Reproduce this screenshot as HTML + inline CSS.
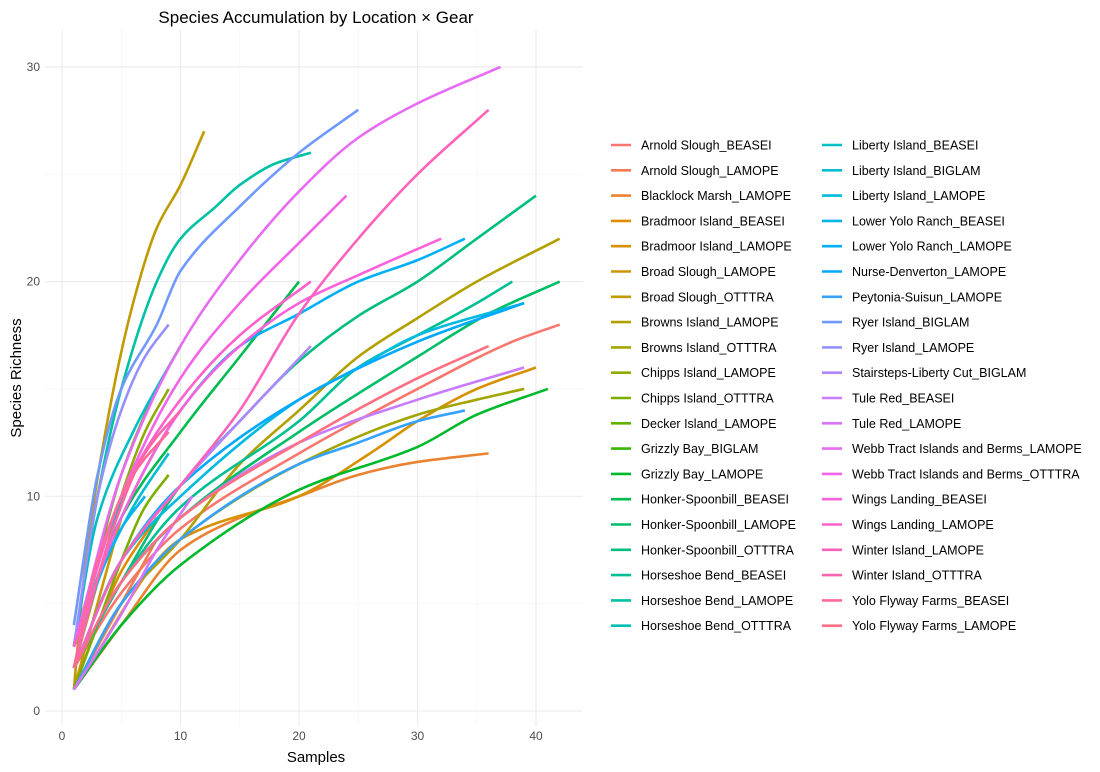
<!DOCTYPE html>
<html><head><meta charset="utf-8"><style>
body{margin:0;background:#fff;font-family:"Liberation Sans",sans-serif}
</style></head><body>
<svg id="chart" width="1100" height="772" style="display:block"></svg>
<script>
const names=["Arnold Slough_BEASEI","Arnold Slough_LAMOPE","Blacklock Marsh_LAMOPE","Bradmoor Island_BEASEI","Bradmoor Island_LAMOPE","Broad Slough_LAMOPE","Broad Slough_OTTTRA","Browns Island_LAMOPE","Browns Island_OTTTRA","Chipps Island_LAMOPE","Chipps Island_OTTTRA","Decker Island_LAMOPE","Grizzly Bay_BIGLAM","Grizzly Bay_LAMOPE","Honker-Spoonbill_BEASEI","Honker-Spoonbill_LAMOPE","Honker-Spoonbill_OTTTRA","Horseshoe Bend_BEASEI","Horseshoe Bend_LAMOPE","Horseshoe Bend_OTTTRA","Liberty Island_BEASEI","Liberty Island_BIGLAM","Liberty Island_LAMOPE","Lower Yolo Ranch_BEASEI","Lower Yolo Ranch_LAMOPE","Nurse-Denverton_LAMOPE","Peytonia-Suisun_LAMOPE","Ryer Island_BIGLAM","Ryer Island_LAMOPE","Stairsteps-Liberty Cut_BIGLAM","Tule Red_BEASEI","Tule Red_LAMOPE","Webb Tract Islands and Berms_LAMOPE","Webb Tract Islands and Berms_OTTTRA","Wings Landing_BEASEI","Wings Landing_LAMOPE","Winter Island_LAMOPE","Winter Island_OTTTRA","Yolo Flyway Farms_BEASEI","Yolo Flyway Farms_LAMOPE"];
const sampleX=[
[1,5,10,20,30,38,42],[1,3,5,8],[1,5,10,15,20,25,30,36],[1,3,5,8],[1,10,20,26,30,35,40],[1,3,5],[1,2,4,6,8,10,12],[1,5,10,15,20,25,30,35,42],[1,5,10,20,30,35,39],[1,3,5,7,9],
[1,3,5,7,9],[1,3,5,8,10],[1,2,3],[1,5,10,20,30,35,41],[1,5,10,15,20],[1,5,10,20,30,36,42],[1,5,10,15,20,25,30,35,40],[1,5,10,20,25,30,35,38],[1,3,5,8,10,13,15,18,21],[1,3,6],
[1,3,6,10],[1,3,6,9],[1,5,10,20,25,30,39],[1,3,5,7],[1,5,10,15,20,25,30,34],[1,5,10,20,30,39],[1,5,10,20,25,30,34],[1,3,5,8,10,15,20,25],[1,3,5,7,9],[1,5,10,15,21],
[1,5,10,20,30,39],[1,5,8,11],[1,5,10,15,20,25,30,37],[1,5,10,15,20,24],[1,5,10,15,20,25,32],[1,5,10,15,21],[1,5,10,15,20,25,30,36],[1,4,7,10],[1,3,6,9],[1,5,10,20,30,36]];
const richness=[
[2,5.5,8.5,12,15,17.2,18],[1,3,5,8],[1,4,7.5,9,10,11,11.6,12],[1,4,6.5,9],[1,8,10,12,13.5,15,16],[1,5,9],[1,7,14,19,22.5,24.5,27],[1,5,8,11.5,14,16.5,18.3,20,22],[1,5,8,11.5,13.8,14.5,15],[2,6,10,13,15],
[1,4,7,9.5,11],[2,7,11,15,17],[2,3,4],[1,4,6.8,10.3,12.3,13.8,15],[3,9,13,16.5,20],[2,6,9,13,16.5,18.5,20],[2,6,10.5,13.5,16.3,18.4,20,22,24],[2,6,9.5,13.5,16,17.5,19,20],[3,10,15,20,22,23.5,24.5,25.5,26],[3,7,11],
[3,9,13,17],[2,6,9.5,12],[2,7,10,14.5,16,17.5,19],[2,6,8.5,10],[3,9,14,17,18.5,20,21,22],[2,7,10.5,14.5,17.2,19],[1,5,8,11.5,12.5,13.5,14],[4,11,15,18,20.5,23.5,26,28],[3,10,14,16.5,18],[2,7,10.5,13.5,17],
[2,6,9,12.5,14.5,16],[1,4.5,7.5,10],[3,11,17,21,24.2,26.7,28.3,30],[3,10,15.5,19,21.8,24],[3,9,14,17,19,20.3,22],[3,10,14.5,17.5,20],[2,7,10.5,14,18.5,22,25,28],[2,8,12,14],[2,7,11,13],[2,6,9,12.5,15.5,17]];
const xTicks=[0,10,20,30,40], yTicks=[0,10,20,30];
const X=v=>62+v*11.85, Y=v=>711-v*21.47;
const NS="http://www.w3.org/2000/svg";
const svg=document.getElementById('chart');
function mk(t,a,p){const e=document.createElementNS(NS,t);for(const k in a)e.setAttribute(k,a[k]);(p||svg).appendChild(e);return e;}
function hcl(h){const L=65,C=100,hr=h*Math.PI/180;const u=C*Math.cos(hr),v=C*Math.sin(hr);
const un=0.19783,vn=0.46832;const Yv=Math.pow((L+16)/116,3);const up=u/(13*L)+un,vp=v/(13*L)+vn;
const Xv=Yv*9*up/(4*vp),Zv=Yv*(12-3*up-20*vp)/(4*vp);
let r=3.2406*Xv-1.5372*Yv-0.4986*Zv,g=-0.9689*Xv+1.8758*Yv+0.0415*Zv,b=0.0557*Xv-0.2040*Yv+1.0570*Zv;
const f=c=>{c=c<=0.0031308?12.92*c:1.055*Math.pow(c,1/2.4)-0.055;return Math.round(255*Math.max(0,Math.min(1,c)));};
return `rgb(${f(r)},${f(g)},${f(b)})`;}
const colors=names.map((n,i)=>hcl(15+i*9));
const grid=mk('g',{});


[5,15,25,35].forEach(v=>mk('line',{x1:X(v),x2:X(v),y1:30,y2:726,stroke:'#f2f2f2','stroke-width':0.6},grid));
[5,15,25].forEach(v=>mk('line',{x1:45,x2:583,y1:Y(v),y2:Y(v),stroke:'#f2f2f2','stroke-width':0.6},grid));
xTicks.forEach(v=>mk('line',{x1:X(v),x2:X(v),y1:30,y2:726,stroke:'#ebebeb','stroke-width':1.1},grid));
yTicks.forEach(v=>mk('line',{x1:45,x2:583,y1:Y(v),y2:Y(v),stroke:'#ebebeb','stroke-width':1.1},grid));
xTicks.forEach(v=>{const t=mk('text',{x:X(v),y:740,'text-anchor':'middle','font-size':12,fill:'#4d4d4d'});t.textContent=v;
});
yTicks.forEach(v=>{const t=mk('text',{x:40,y:Y(v)+4,'text-anchor':'end','font-size':12,fill:'#4d4d4d'});t.textContent=v;
});
function path(xs,ys){const n=xs.length;const p=xs.map((x,i)=>[X(x),Y(ys[i])]);
if(n<2)return '';const d=[],m=[];
for(let i=0;i<n-1;i++)d.push((p[i+1][1]-p[i][1])/(p[i+1][0]-p[i][0]));
m[0]=d[0];m[n-1]=d[n-2];
for(let i=1;i<n-1;i++){m[i]=(d[i-1]*d[i]<=0)?0:2/(1/d[i-1]+1/d[i]);}
let s=`M${p[0][0]},${p[0][1]}`;
for(let i=0;i<n-1;i++){const h=(p[i+1][0]-p[i][0])/3;
s+=` C${p[i][0]+h},${p[i][1]+m[i]*h} ${p[i+1][0]-h},${p[i+1][1]-m[i+1]*h} ${p[i+1][0]},${p[i+1][1]}`;}
return s;}
names.forEach((n,i)=>{const e=mk('path',{d:path(sampleX[i],richness[i]),fill:'none',stroke:colors[i],'stroke-width':2.6});

});
const title=mk('text',{x:316,y:23,'text-anchor':'middle','font-size':17,fill:'#000'});title.textContent='Species Accumulation by Location × Gear';

const xt=mk('text',{x:316,y:762,'text-anchor':'middle','font-size':15,fill:'#000'});xt.textContent='Samples';

const yt=mk('text',{x:21,y:378,'text-anchor':'middle','font-size':15,fill:'#000',transform:'rotate(-90 21 378)'});yt.textContent='Species Richness';

names.forEach((n,i)=>{const col=i<20?0:1,row=i%20;const lx=col?822:611,ly=145+row*25.3;
const g=mk('g',{});
mk('line',{x1:lx,x2:lx+20,y1:ly,y2:ly,stroke:colors[i],'stroke-width':2.6},g);
const t=mk('text',{x:lx+30,y:ly+4.5,'font-size':12.5,fill:'#000'},g);t.textContent=n;});
</script>
</body></html>
